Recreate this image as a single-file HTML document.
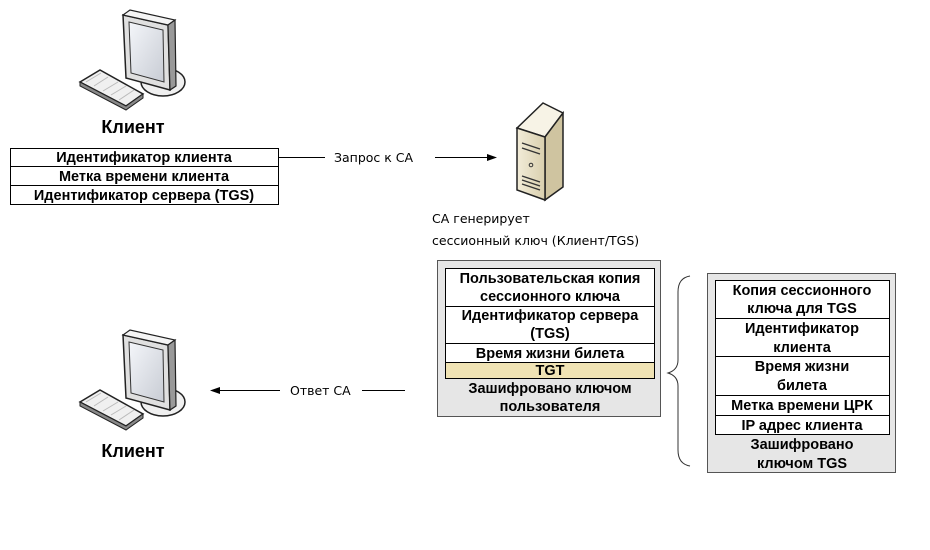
<!DOCTYPE html>
<html><head><meta charset="utf-8"><style>
html,body{margin:0;padding:0;background:#fff;}
svg{display:block}
.t{font-family:"Liberation Sans",Arial,sans-serif;font-weight:bold;font-size:14.5px;fill:#000;text-anchor:middle}
.c{font-family:"DejaVu Sans",sans-serif;font-size:12.5px;fill:#000}
.k{font-family:"Liberation Sans",Arial,sans-serif;font-weight:bold;font-size:18px;fill:#000;text-anchor:middle}
</style></head><body>
<svg width="930" height="550" viewBox="0 0 930 550" xmlns="http://www.w3.org/2000/svg">
<defs>
<linearGradient id="scr" x1="0" y1="0" x2="1" y2="1"><stop offset="0" stop-color="#f4f6fa"/><stop offset="1" stop-color="#c8ccd4"/></linearGradient>
<linearGradient id="srv" x1="0" y1="0" x2="1" y2="0"><stop offset="0" stop-color="#f2ecd8"/><stop offset="1" stop-color="#d9cfae"/></linearGradient>
<g id="pc">
 <ellipse cx="45" cy="72" rx="22" ry="14" fill="#f0f0f0" stroke="#222" stroke-width="1.5"/>
 <path d="M5 5 L50 15 L52 80 L8 68 Z" fill="#e0e0e0" stroke="#222" stroke-width="1.5"/>
 <path d="M5 5 L12 0 L57 10 L50 15 Z" fill="#f5f5f5" stroke="#222" stroke-width="1.2"/>
 <path d="M50 15 L57 10 L58 76 L52 80 Z" fill="#999" stroke="#222" stroke-width="1.2"/>
 <path d="M11 12 L45 20 L46 72 L13 63 Z" fill="url(#scr)" stroke="#333" stroke-width="1"/>
 <path d="M-38 72 L-18 60 L25 84 L8 96 Z" fill="#f0f0f0" stroke="#222" stroke-width="1.5"/>
 <path d="M-38 72 L-38 76 L8 100 L25 88 L25 84 L8 96 Z" fill="#888" stroke="#222" stroke-width="1"/>
 <path d="M-32 72 L-17 63 M-24 76 L-10 67 M-15 81 L0 72 M-7 85 L8 76 M1 90 L16 80" stroke="#bbb" stroke-width="1"/>
</g>
</defs>

<use href="#pc" x="118" y="10"/>
<text class="k" x="133" y="133">Клиент</text>
<use href="#pc" x="118" y="330"/>
<text class="k" x="133" y="457">Клиент</text>

<!-- top table -->
<rect x="10.5" y="148.5" width="268" height="56" fill="#fff" stroke="#000"/>
<line x1="10" y1="166.5" x2="278" y2="166.5" stroke="#000"/>
<line x1="10" y1="185.5" x2="278" y2="185.5" stroke="#000"/>
<text class="t" x="144" y="162">Идентификатор клиента</text>
<text class="t" x="144" y="181">Метка времени клиента</text>
<text class="t" x="144" y="200">Идентификатор сервера (TGS)</text>

<line x1="278" y1="157.5" x2="325" y2="157.5" stroke="#000"/>
<text class="c" x="334" y="162">Запрос к СА</text>
<line x1="435" y1="157.5" x2="490" y2="157.5" stroke="#000"/>
<path d="M497 157.5 L487 154 L487 161 Z" fill="#000"/>

<!-- server -->
<path d="M517 128 L543 103 L563 113 L545 137 Z" fill="#f7f3e6" stroke="#222" stroke-width="1.5"/>
<path d="M545 137 L563 113 L563 187 L545 200 Z" fill="#cfc4a0" stroke="#222" stroke-width="1.5"/>
<path d="M517 128 L545 137 L545 200 L517 190 Z" fill="url(#srv)" stroke="#222" stroke-width="1.5"/>
<path d="M522 143 L540 149 M522 148 L540 154 M522 176 L540 182 M522 180 L540 186 M522 184 L540 190" stroke="#333" stroke-width="1.4"/>
<circle cx="531" cy="165" r="1.8" fill="none" stroke="#333"/>

<text class="c" x="432" y="223">СА генерирует</text>
<text class="c" x="432" y="245">сессионный ключ (Клиент/TGS)</text>

<!-- box 1 -->
<rect x="437.5" y="260.5" width="223" height="156" fill="#e6e6e6" stroke="#555"/>
<rect x="445.5" y="268.5" width="209" height="110" fill="#fff" stroke="#000"/>
<rect x="446" y="362" width="208" height="16" fill="#f0e3b4"/>
<line x1="445" y1="306.5" x2="654" y2="306.5" stroke="#000"/>
<line x1="445" y1="343.5" x2="654" y2="343.5" stroke="#000"/>
<line x1="445" y1="362.5" x2="654" y2="362.5" stroke="#000"/>
<line x1="445" y1="378.5" x2="654" y2="378.5" stroke="#000"/>
<text class="t" x="550" y="283">Пользовательская копия</text>
<text class="t" x="550" y="301">сессионного ключа</text>
<text class="t" x="550" y="320">Идентификатор сервера</text>
<text class="t" x="550" y="338">(TGS)</text>
<text class="t" x="550" y="358">Время жизни билета</text>
<text class="t" x="550" y="375">TGT</text>
<text class="t" x="550" y="393">Зашифровано ключом</text>
<text class="t" x="550" y="411">пользователя</text>

<line x1="405" y1="390.5" x2="362" y2="390.5" stroke="#000"/>
<text class="c" x="290" y="395">Ответ СА</text>
<line x1="280" y1="390.5" x2="217" y2="390.5" stroke="#000"/>
<path d="M210 390.5 L220 387 L220 394 Z" fill="#000"/>

<!-- brace -->
<path d="M690 276 Q678 278 678 292 L678 360 Q678 370 668 373 Q678 376 678 386 L678 450 Q678 464 690 466" fill="none" stroke="#333" stroke-width="1"/>

<!-- box 2 -->
<rect x="707.5" y="273.5" width="188" height="199" fill="#e6e6e6" stroke="#555"/>
<rect x="715.5" y="280.5" width="174" height="154" fill="#fff" stroke="#000"/>
<line x1="715" y1="318.5" x2="889" y2="318.5" stroke="#000"/>
<line x1="715" y1="356.5" x2="889" y2="356.5" stroke="#000"/>
<line x1="715" y1="395.5" x2="889" y2="395.5" stroke="#000"/>
<line x1="715" y1="415.5" x2="889" y2="415.5" stroke="#000"/>
<text class="t" x="802" y="295">Копия  сессионного</text>
<text class="t" x="802" y="313">ключа для TGS</text>
<text class="t" x="802" y="333">Идентификатор</text>
<text class="t" x="802" y="352">клиента</text>
<text class="t" x="802" y="371">Время жизни</text>
<text class="t" x="802" y="390">билета</text>
<text class="t" x="802" y="410">Метка времени ЦРК</text>
<text class="t" x="802" y="430">IP адрес клиента</text>
<text class="t" x="802" y="449">Зашифровано</text>
<text class="t" x="802" y="468">ключом TGS</text>
</svg>
</body></html>
